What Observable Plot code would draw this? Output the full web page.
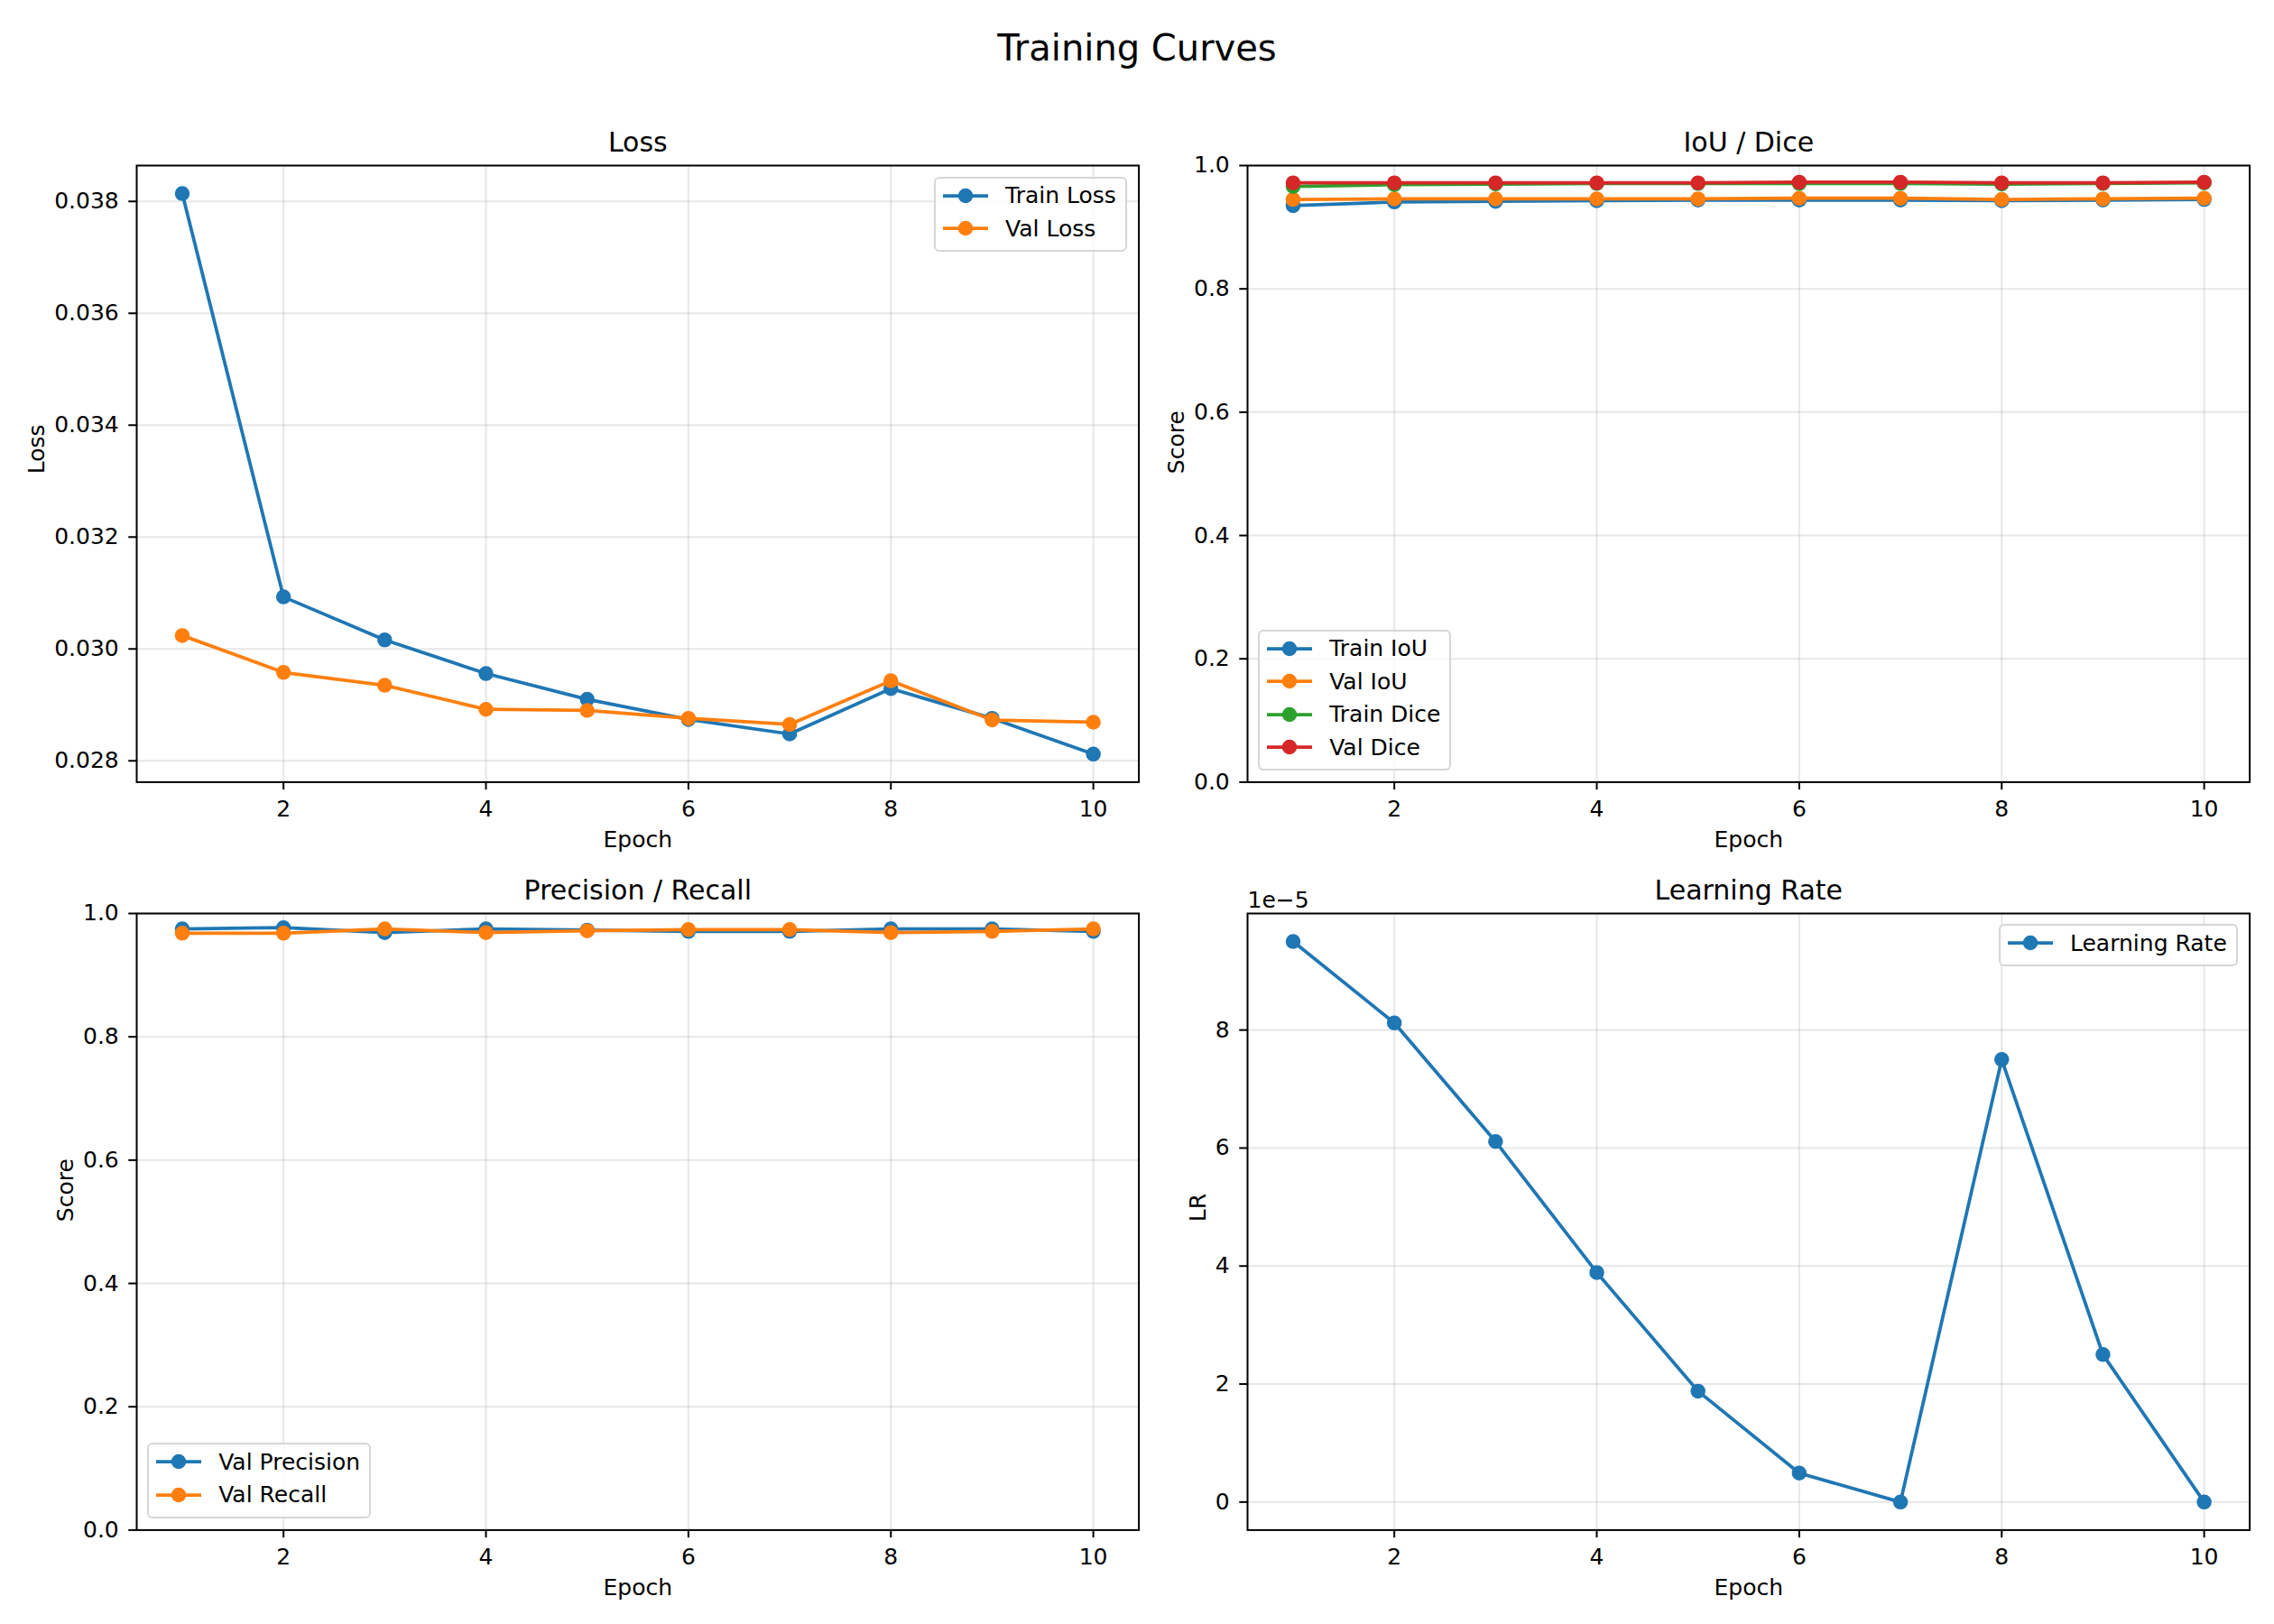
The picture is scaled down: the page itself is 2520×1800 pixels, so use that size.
<!DOCTYPE html>
<html><head><meta charset="utf-8">
<script src="https://cdn.jsdelivr.net/npm/d3@7"></script>
<script src="https://cdn.jsdelivr.net/npm/@observablehq/plot@0.6"></script>
<style>
html,body{margin:0;padding:0;background:#fff;}
#fig{position:relative;width:2520px;height:1800px;background:#fff;overflow:hidden;font-family:"DejaVu Sans",sans-serif;color:#000;}
.pane{position:absolute;}
.suptitle{position:absolute;left:0;width:2520px;text-align:center;font-size:40px;line-height:40px;}
.legend{position:absolute;box-sizing:border-box;background:rgba(255,255,255,0.8);border:2.5px solid rgba(204,204,204,0.8);border-radius:6px;font-size:25px;line-height:25px;padding:0.75px 10px 5.75px 6px;white-space:nowrap;}
.legend .row{display:flex;align-items:center;height:36.5px;}
.legend svg{display:block;margin-right:17px;}
</style></head><body><div id="fig"></div><script>
// ---- data ----
const epochs = [1, 2, 3, 4, 5, 6, 7, 8, 9, 10];
const xTicks = [2, 4, 6, 8, 10];
const trainLoss = [0.03814, 0.03093, 0.03016, 0.02956, 0.02910, 0.02874, 0.02848, 0.02929, 0.02876, 0.02812];
const valLoss   = [0.03024, 0.02958, 0.02935, 0.02892, 0.02890, 0.02876, 0.02865, 0.02943, 0.02873, 0.02869];
const trainIoU  = [0.935, 0.941, 0.942, 0.943, 0.944, 0.944, 0.944, 0.943, 0.944, 0.945];
const valIoU    = [0.945, 0.946, 0.946, 0.946, 0.946, 0.947, 0.947, 0.945, 0.946, 0.947];
const trainDice = [0.966, 0.969, 0.970, 0.971, 0.971, 0.971, 0.971, 0.970, 0.971, 0.972];
const valDice   = [0.972, 0.972, 0.972, 0.972, 0.972, 0.973, 0.973, 0.972, 0.972, 0.973];
const valPrecision = [0.975, 0.977, 0.969, 0.975, 0.973, 0.971, 0.971, 0.975, 0.975, 0.971];
const valRecall    = [0.968, 0.968, 0.975, 0.969, 0.972, 0.974, 0.974, 0.969, 0.971, 0.975];
const learningRate = [9.50e-5, 8.12e-5, 6.11e-5, 3.89e-5, 1.88e-5, 0.49e-5, 0, 7.50e-5, 2.50e-5, 0];
const lossTicks = [0.028, 0.030, 0.032, 0.034, 0.036, 0.038];
const scoreTicks = [0, 0.2, 0.4, 0.6, 0.8, 1.0];
const lrTicks = [0, 2e-5, 4e-5, 6e-5, 8e-5];
const C = {blue: "#1f77b4", orange: "#ff7f0e", green: "#2ca02c", red: "#d62728"};

// ---- layout ----
const W = 1110.6, H = 683.4;
const colX = [150.7, 1381.7], rowY = [183.3, 1011.7];
const mL = 150, mR = 30, mT = 70, mB = 95;
const fig = document.getElementById("fig");

const sup = document.createElement("div");
sup.className = "suptitle"; sup.style.top = "33px"; sup.textContent = "Training Curves";
fig.appendChild(sup);

function autoDomain(arrs) {
  const all = arrs.flat();
  const lo = d3.min(all), hi = d3.max(all), p = (hi - lo) * 0.05;
  return [lo - p, hi + p];
}

function panel({col, row, yDomain, yTicks, yFormat, series, title, ylabel, ylabelDx, offsetText, legend}) {
  const grid = {stroke: "#b0b0b0", strokeOpacity: 0.3, strokeWidth: 2};
  const marks = [
    Plot.gridX({ticks: xTicks, ...grid}),
    Plot.gridY({ticks: yTicks, ...grid})
  ];
  for (const s of series) {
    const rows = epochs.map((e, i) => ({epoch: e, value: s.values[i]}));
    marks.push(Plot.line(rows, {x: "epoch", y: "value", stroke: s.color, strokeWidth: 3.75}));
    marks.push(Plot.dot(rows, {x: "epoch", y: "value", r: 7.5, fill: s.color, stroke: s.color, strokeWidth: 1.5}));
  }
  marks.push(Plot.frame({stroke: "black", strokeWidth: 2}));
  marks.push(Plot.axisX({ticks: xTicks, tickFormat: d => String(d), tickSize: 8.75, tickPadding: 12, strokeWidth: 2, fontSize: 25, label: null, color: "black"}));
  marks.push(Plot.axisY({ticks: yTicks, tickFormat: yFormat, tickSize: 8.75, tickPadding: 11, strokeWidth: 2, fontSize: 25, label: null, color: "black"}));
  marks.push(Plot.text([title], {text: d => d, frameAnchor: "top", dy: -15, lineAnchor: "bottom", fontSize: 30, fill: "black"}));
  marks.push(Plot.text(["Epoch"], {text: d => d, frameAnchor: "bottom", dy: 72, lineAnchor: "bottom", fontSize: 25, fill: "black"}));
  marks.push(Plot.text([ylabel], {text: d => d, frameAnchor: "left", dx: ylabelDx, rotate: -90, lineAnchor: "middle", fontSize: 25, fill: "black"}));
  if (offsetText) marks.push(Plot.text([offsetText], {text: d => d, frameAnchor: "top-left", dy: -6.7, lineAnchor: "bottom", textAnchor: "start", fontSize: 25, fill: "black"}));

  const svg = Plot.plot({
    width: mL + W + mR, height: mT + H + mB,
    marginLeft: mL, marginRight: mR, marginTop: mT, marginBottom: mB,
    x: {domain: [0.55, 10.45]},
    y: {domain: yDomain},
    style: {fontFamily: "DejaVu Sans", fontSize: "25px", color: "black", background: "transparent", overflow: "visible"},
    marks
  });
  const wrap = document.createElement("div");
  wrap.className = "pane";
  wrap.style.left = (colX[col] - mL) + "px";
  wrap.style.top = (rowY[row] - mT) + "px";
  wrap.style.width = (mL + W + mR) + "px";
  wrap.appendChild(svg);
  fig.appendChild(wrap);

  // legend
  const lg = document.createElement("div");
  lg.className = "legend";
  const off = 12.5;
  if (legend === "upper right") {
    lg.style.right = (2520 - (colX[col] + W) + off) + "px";
    lg.style.top = (rowY[row] + off) + "px";
  } else {
    lg.style.left = (colX[col] + off) + "px";
    lg.style.bottom = (1800 - (rowY[row] + H) + off) + "px";
  }
  for (const s of series) {
    const r = document.createElement("div");
    r.className = "row";
    r.innerHTML = `<svg width="54" height="20" viewBox="0 0 54 20"><line x1="2" x2="52" y1="10" y2="10" stroke="${s.color}" stroke-width="3.75"/><circle cx="27" cy="10" r="7.5" fill="${s.color}" stroke="${s.color}" stroke-width="1.5"/></svg>`;
    const t = document.createElement("span");
    t.textContent = s.name;
    r.appendChild(t);
    lg.appendChild(r);
  }
  fig.appendChild(lg);
}

const f1 = d => d.toFixed(1);
panel({col: 0, row: 0, yDomain: autoDomain([trainLoss, valLoss]), yTicks: lossTicks, yFormat: d => d.toFixed(3),
  series: [{name: "Train Loss", values: trainLoss, color: C.blue}, {name: "Val Loss", values: valLoss, color: C.orange}],
  title: "Loss", ylabel: "Loss", ylabelDx: -110.5, legend: "upper right"});
panel({col: 1, row: 0, yDomain: [0, 1], yTicks: scoreTicks, yFormat: f1,
  series: [{name: "Train IoU", values: trainIoU, color: C.blue}, {name: "Val IoU", values: valIoU, color: C.orange},
           {name: "Train Dice", values: trainDice, color: C.green}, {name: "Val Dice", values: valDice, color: C.red}],
  title: "IoU / Dice", ylabel: "Score", ylabelDx: -78.8, legend: "lower left"});
panel({col: 0, row: 1, yDomain: [0, 1], yTicks: scoreTicks, yFormat: f1,
  series: [{name: "Val Precision", values: valPrecision, color: C.blue}, {name: "Val Recall", values: valRecall, color: C.orange}],
  title: "Precision / Recall", ylabel: "Score", ylabelDx: -78.8, legend: "lower left"});
panel({col: 1, row: 1, yDomain: autoDomain([learningRate]), yTicks: lrTicks, yFormat: d => String(Math.round(d * 1e5)),
  series: [{name: "Learning Rate", values: learningRate, color: C.blue}],
  title: "Learning Rate", ylabel: "LR", ylabelDx: -54.9, offsetText: "1e\u22125", legend: "upper right"});
</script></body></html>
